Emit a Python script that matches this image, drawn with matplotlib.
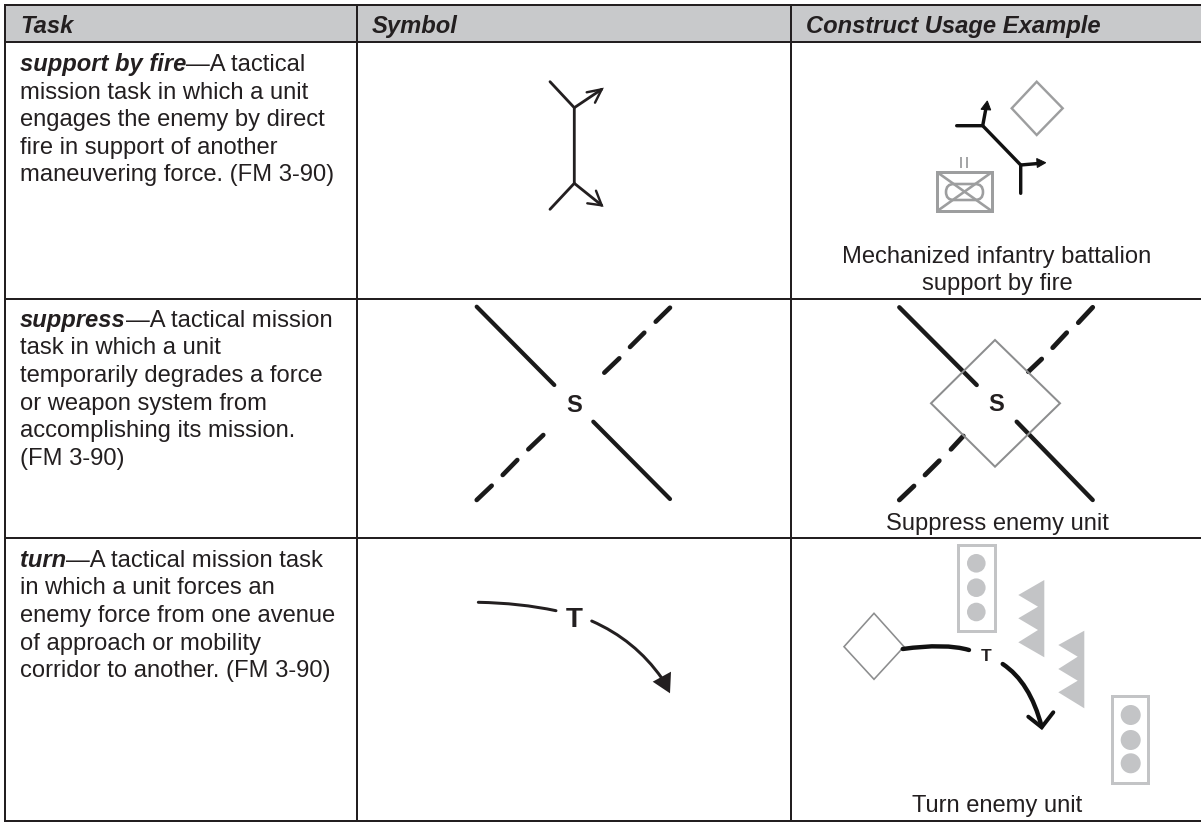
import matplotlib
matplotlib.use("Agg")
import matplotlib.pyplot as plt
from matplotlib.patches import Polygon, Circle, Rectangle, FancyBboxPatch, PathPatch
from matplotlib.path import Path

INK = "#231f20"
HEAD = "#c8c9cb"
FONT = "Liberation Sans"
BODY = 17.15
PX = 0.72

headers = ["Task", "Symbol", "Construct Usage Example"]
header_x = [20, 372, 806]
col_x = [5, 357, 791]
row_y = [5, 42, 299, 538, 821]
terms = ["support by fire", "suppress", "turn"]
first_lines = ["\u2014A tactical", "\u2014A tactical mission", "\u2014A tactical mission task"]
rest_lines = [
    ["mission task in which a unit", "engages the enemy by direct", "fire in support of another",
     "maneuvering force. (FM 3-90)"],
    ["task in which a unit", "temporarily degrades a force", "or weapon system from",
     "accomplishing its mission.", "(FM 3-90)"],
    ["in which a unit forces an", "enemy force from one avenue", "of approach or mobility",
     "corridor to another. (FM 3-90)"],
]
first_baselines = [71, 326.7, 566.7]
captions = [("Mechanized infantry battalion", 262.7), ("support by fire", 289.5),
            ("Suppress enemy unit", 530), ("Turn enemy unit", 811.7)]

fig = plt.figure(figsize=(12.01, 8.22), dpi=100)
ax = fig.add_axes([0, 0, 1, 1])
ax.set_xlim(0, 1201)
ax.set_ylim(822, 0)
ax.axis("off")


def line(xs, ys, c=INK, w=2.5, cap="round", z=3):
    ax.plot(xs, ys, color=c, lw=w * PX, solid_capstyle=cap, solid_joinstyle="miter", zorder=z)


def curve(p0, p1, p2, c=INK, w=3.0):
    ax.add_patch(PathPatch(Path([p0, p1, p2], [Path.MOVETO, Path.CURVE3, Path.CURVE3]),
                           fc="none", ec=c, lw=w * PX, capstyle="round", zorder=3))


def poly(pts, fc="none", ec="none", w=2.0, z=3):
    ax.add_patch(Polygon(pts, closed=True, fc=fc, ec=ec, lw=w * PX, joinstyle="miter", zorder=z))


# table grid
ax.add_patch(Rectangle((col_x[0], row_y[0]), 1201 - col_x[0], row_y[1] - row_y[0], fc=HEAD, ec="none", zorder=1))
for y in row_y:
    line([col_x[0] - 1, 1201], [y, y], w=2.0, cap="butt", z=2)
for x in col_x:
    line([x, x], [row_y[0], row_y[-1]], w=2.0, cap="butt", z=2)

# text
for label, x in zip(headers, header_x):
    ax.text(x, 33.3, label, fontsize=BODY, family=FONT, weight="bold", style="italic", color=INK)

renderer = fig.canvas.get_renderer()
for term, first, rest, base in zip(terms, first_lines, rest_lines, first_baselines):
    t = ax.text(20, base, term, fontsize=BODY, family=FONT, weight="bold", style="italic", color=INK)
    width = t.get_window_extent(renderer).x1
    ax.text(width, base, first, fontsize=BODY, family=FONT, color=INK)
    for i, s in enumerate(rest):
        ax.text(20, base + (i + 1) * 27.6, s, fontsize=BODY, family=FONT, color=INK)

for s, y in captions:
    ax.text(997, y, s, fontsize=BODY, family=FONT, color=INK, ha="center")

# --- support by fire symbol
line([550, 574.3, 574.3, 550], [81.7, 107.7, 183.3, 209.3], w=2.8)
line([574.3, 601.7], [107.7, 89.3], w=2.8)
line([586.7, 601.7, 595], [92.3, 89.3, 102.7], w=2.4)
line([574.3, 601.7], [183.3, 205.3], w=2.8)
line([596, 601.7, 587.3], [190.7, 205.3, 203.3], w=2.4)

# --- support by fire construct
GREY = "#9d9e9f"
poly([(1036.7, 81.7), (1062.7, 108.3), (1036.7, 135), (1011.7, 108.3)], ec=GREY, w=2.4)
line([956.7, 982.7, 1020.7, 1020.7], [125.7, 125.7, 165, 193.3], c="#111111", w=3.4)
line([982.7, 986], [125.7, 108], c="#111111", w=3.4)
poly([(987.3, 101), (981, 109.3), (990.7, 110)], fc="#111111", ec="#111111", w=1)
line([1020.7, 1038], [165, 163.5], c="#111111", w=3.4)
poly([(1045.7, 162.7), (1036.7, 158.5), (1037.3, 167.5)], fc="#111111", ec="#111111", w=1)
ax.add_patch(Rectangle((937.3, 172.3), 54.4, 38.7, fc="none", ec=GREY, lw=3 * PX, zorder=3))
line([937.3, 991.7], [172.3, 211], c=GREY, w=2.6, cap="butt")
line([937.3, 991.7], [211, 172.3], c=GREY, w=2.6, cap="butt")
ax.add_patch(FancyBboxPatch((946, 184), 37, 16, boxstyle="round,pad=0,rounding_size=8", fc="none",
                            ec=GREY, lw=2.6 * PX, zorder=3))
line([961, 961], [157, 168], c=GREY, w=1.8, cap="butt")
line([966.7, 966.7], [157, 168], c=GREY, w=1.8, cap="butt")

# --- suppress symbol and construct
sym_solid = [([476.7, 554.3], [306.7, 385]), ([593.3, 670], [421.7, 499])]
sym_dash = [([670, 655.7], [307.7, 321.7]), ([644.3, 630], [332.7, 347]), ([619.3, 604.3], [358.3, 372.7]),
            ([543.3, 528.3], [435, 449.3]), ([517.3, 502.7], [460, 475]), ([491.7, 476.7], [485.7, 500])]
for xs, ys in sym_solid:
    line(xs, ys, c="#1a1a1a", w=4.2)
for xs, ys in sym_dash:
    line(xs, ys, c="#1a1a1a", w=4.6)
con_solid = [([899.3, 976.7], [307.3, 385]), ([1016.7, 1092.7], [421.7, 500])]
con_dash = [([1092.7, 1078.3], [307.3, 322.7]), ([1066.7, 1052.7], [332.7, 347.7]),
            ([1041.7, 1028.3], [359, 371.7]), ([963.3, 951], [436, 449.3]),
            ([939.3, 925], [460.7, 475]), ([914, 899.3], [486, 500])]
for xs, ys in con_solid:
    line(xs, ys, c="#1a1a1a", w=4.4)
for xs, ys in con_dash:
    line(xs, ys, c="#1a1a1a", w=4.8)
poly([(995, 340), (1060, 403.3), (995, 466.7), (931, 403.3)], ec="#8c8d8e", w=2.0, z=4)
ax.text(574, 403.3, "S", fontsize=17, family=FONT, weight="bold", color=INK, ha="center", va="center_baseline")
ax.text(995.7, 402.3, "S", fontsize=17, family=FONT, weight="bold", color=INK, ha="center", va="center_baseline")

# --- turn symbol
curve((478.3, 602.3), (520, 603), (556, 610.7), w=3.0)
curve((591.7, 621), (635, 640), (661.7, 678), w=3.0)
poly([(671, 671.7), (652.7, 681.7), (670, 693.3)], fc=INK)
ax.text(574, 616.7, "T", fontsize=20, family=FONT, weight="bold", color=INK, ha="center", va="center_baseline")

# --- turn construct
LIGHT = "#c3c4c6"
for x0, y0, x1, y1, cx, cys, r in [(957.7, 545, 995.3, 630.7, 976.3, (563.3, 587.7, 612), 9.3),
                                   (1112.3, 696, 1148, 782.7, 1130.7, (715, 740, 763.3), 10)]:
    ax.add_patch(Rectangle((x0, y0), x1 - x0, y1 - y0, fc="none", ec=LIGHT, lw=3 * PX, zorder=3))
    for cy in cys:
        ax.add_patch(Circle((cx, cy), r, fc=LIGHT, ec="none", zorder=3))
poly([(1044.3, 580), (1018.3, 595), (1038, 606.7), (1018.3, 618.3), (1038, 630), (1018.3, 642.3), (1044.3, 657.3)],
     fc=LIGHT)
poly([(1084.3, 630.7), (1058.3, 645), (1077.7, 656.7), (1058.3, 669), (1077.7, 680.7), (1058.3, 692.3), (1084.3, 708.3)],
     fc=LIGHT)
poly([(874, 613.3), (904, 646.7), (874, 679.3), (844, 646.7)], ec="#8c8d8e", w=1.6)
curve((902.7, 649), (945, 643), (969, 650), c="#111111", w=4.4)
curve((1002.7, 664), (1030, 682), (1041.7, 726.7), c="#111111", w=4.4)
line([1028.3, 1041.7, 1053.3], [716.7, 727.3, 712.3], c="#111111", w=4.0)
ax.text(986, 655, "T", fontsize=12.5, family=FONT, weight="bold", color=INK, ha="center", va="center_baseline")

fig.savefig("out.png", dpi=100)
